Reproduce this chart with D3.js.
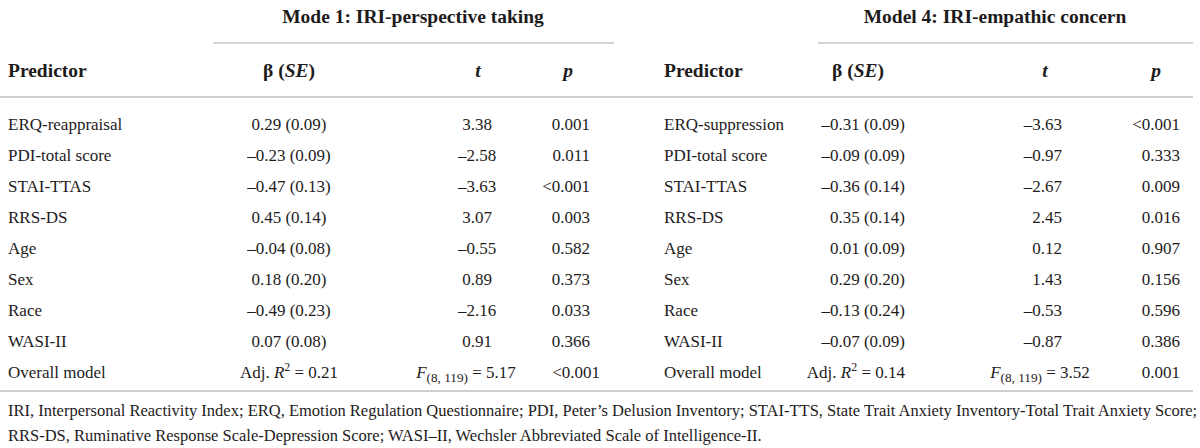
<!DOCTYPE html>
<html lang="en">
<head>
<meta charset="UTF-8">
<title>Regression models table</title>
<script src="https://cdnjs.cloudflare.com/ajax/libs/d3/7.8.5/d3.min.js"></script>
<style>
    body { margin: 0; padding: 0; background: #fff; }
    svg text { font-family: "Liberation Serif", "DejaVu Serif", serif; fill: #1e1b1c; }
</style>
</head>
<body>
<div id="table"></div>
<script>
// model titles
const modelTitles = ["Mode 1: IRI-perspective taking", "Model 4: IRI-empathic concern"];

// model 1 (perspective taking)
const predictors1 = ["ERQ-reappraisal", "PDI-total score", "STAI-TTAS", "RRS-DS", "Age", "Sex", "Race", "WASI-II"];
const beta1 = [0.29, -0.23, -0.47, 0.45, -0.04, 0.18, -0.49, 0.07];
const se1 = [0.09, 0.09, 0.13, 0.14, 0.08, 0.20, 0.23, 0.08];
const t1 = [3.38, -2.58, -3.63, 3.07, -0.55, 0.89, -2.16, 0.91];
const p1 = ["0.001", "0.011", "<0.001", "0.003", "0.582", "0.373", "0.033", "0.366"];

// model 4 (empathic concern)
const predictors4 = ["ERQ-suppression", "PDI-total score", "STAI-TTAS", "RRS-DS", "Age", "Sex", "Race", "WASI-II"];
const beta4 = [-0.31, -0.09, -0.36, 0.35, 0.01, 0.29, -0.13, -0.07];
const se4 = [0.09, 0.09, 0.14, 0.14, 0.09, 0.20, 0.24, 0.09];
const t4 = [-3.63, -0.97, -2.67, 2.45, 0.12, 1.43, -0.53, -0.87];
const p4 = ["<0.001", "0.333", "0.009", "0.016", "0.907", "0.156", "0.596", "0.386"];

// overall model rows
const overallR2 = [0.21, 0.14];
const overallF = [5.17, 3.52];
const overallDf = [8, 119];
const overallP = ["<0.001", "0.001"];

// footnote, one string per printed line
const footnoteLines = [
    "IRI, Interpersonal Reactivity Index; ERQ, Emotion Regulation Questionnaire; PDI, Peter\u2019s Delusion Inventory; STAI-TTS, State Trait Anxiety Inventory-Total Trait Anxiety Score;",
    "RRS-DS, Ruminative Response Scale-Depression Score; WASI\u2013II, Wechsler Abbreviated Scale of Intelligence-II."
];

const W = 1200, H = 448;
const fmt = v => (v < 0 ? "\u2013" : "") + Math.abs(v).toFixed(2);

const svg = d3.select("#table").append("svg")
    .attr("width", W)
    .attr("height", H);

// rows: 8 predictors + overall model
const y = d3.scalePoint()
    .domain(d3.range(9))
    .range([124, 372]);

const tables = [
    { title: modelTitles[0], pred: predictors1, beta: beta1, se: se1, t: t1, p: p1,
      r2: overallR2[0], F: overallF[0], pAll: overallP[0],
      xPred: 8, xBeta: 289, betaAnchor: "middle", xBetaHead: 289,
      xT: 477, tAnchor: "middle", xTHead: 478, xF: 466,
      xP: 590, xPHead: 568, xPAll: 600, xTitle: 413, rule: [213, 614] },
    { title: modelTitles[1], pred: predictors4, beta: beta4, se: se4, t: t4, p: p4,
      r2: overallR2[1], F: overallF[1], pAll: overallP[1],
      xPred: 664, xBeta: 905, betaAnchor: "end", xBetaHead: 858,
      xT: 1062, tAnchor: "end", xTHead: 1045, xF: 1040,
      xP: 1180, xPHead: 1156, xPAll: 1180, xTitle: 995, rule: [818, 1193] }
];

const bodySize = 17, headSize = 19.5;

tables.forEach(tb => {
    const g = svg.append("g");

    g.append("text")
        .attr("x", tb.xTitle).attr("y", 23)
        .attr("text-anchor", "middle")
        .attr("font-size", headSize).attr("font-weight", "bold")
        .text(tb.title);

    g.append("line")
        .attr("x1", tb.rule[0]).attr("x2", tb.rule[1])
        .attr("y1", 43).attr("y2", 43)
        .attr("stroke", "#a8a8a8").attr("stroke-width", 1.2);

    // header row
    const hy = 77;
    const head = g.append("g")
        .attr("font-size", headSize).attr("font-weight", "bold");
    head.append("text").attr("x", tb.xPred).attr("y", hy).text("Predictor");
    const hb = head.append("text").attr("x", tb.xBetaHead).attr("y", hy)
        .attr("text-anchor", "middle");
    hb.append("tspan").text("\u03b2 (");
    hb.append("tspan").attr("font-style", "italic").text("SE");
    hb.append("tspan").text(")");
    head.append("text").attr("x", tb.xTHead).attr("y", hy)
        .attr("text-anchor", "middle").attr("font-style", "italic").text("t");
    head.append("text").attr("x", tb.xPHead).attr("y", hy)
        .attr("text-anchor", "middle").attr("font-style", "italic").text("p");

    // predictor rows
    const rows = g.selectAll("g.row")
        .data(tb.pred.map((d, i) => ({ name: d, beta: tb.beta[i], se: tb.se[i], t: tb.t[i], p: tb.p[i], i })))
        .join("g")
        .attr("class", "row")
        .attr("transform", d => `translate(0,${y(d.i) + 6})`)
        .attr("font-size", bodySize);

    rows.append("text").attr("x", tb.xPred).text(d => d.name);
    rows.append("text").attr("x", tb.xBeta).attr("text-anchor", tb.betaAnchor)
        .text(d => `${fmt(d.beta)} (${d.se.toFixed(2)})`);
    rows.append("text").attr("x", tb.xT).attr("text-anchor", tb.tAnchor).text(d => fmt(d.t));
    rows.append("text").attr("x", tb.xP).attr("text-anchor", "end").text(d => d.p);

    // overall model row
    const og = g.append("g")
        .attr("transform", `translate(0,${y(8) + 6})`)
        .attr("font-size", bodySize);
    og.append("text").attr("x", tb.xPred).text("Overall model");
    const r2 = og.append("text").attr("x", tb.xBeta).attr("text-anchor", tb.betaAnchor);
    r2.append("tspan").text("Adj. ");
    r2.append("tspan").attr("font-style", "italic").text("R");
    r2.append("tspan").attr("font-size", bodySize * 0.7).attr("dy", -7).text("2");
    r2.append("tspan").attr("dy", 7).text(` = ${tb.r2.toFixed(2)}`);
    const ft = og.append("text").attr("x", tb.xF).attr("text-anchor", "middle");
    ft.append("tspan").attr("font-style", "italic").text("F");
    ft.append("tspan").attr("font-size", bodySize * 0.78).attr("dy", 4).text(`(${overallDf[0]}, ${overallDf[1]})`);
    ft.append("tspan").attr("dy", -4).text(` = ${tb.F.toFixed(2)}`);
    og.append("text").attr("x", tb.xPAll).attr("text-anchor", "end").text(tb.pAll);
});

// full-width rules
[97, 391].forEach(ry => {
    svg.append("line")
        .attr("x1", 0).attr("x2", 1193)
        .attr("y1", ry).attr("y2", ry)
        .attr("stroke", "#cfcfcf").attr("stroke-width", 2);
});

// footnote: first line justified to the table width
const footSize = 16.5, footLeft = 8, footRight = 1192;
footnoteLines.forEach((ln, i) => {
    const t = svg.append("text")
        .attr("x", footLeft).attr("y", 416 + i * 25)
        .attr("font-size", footSize)
        .text(ln);
    if (i < footnoteLines.length - 1) {
        const natural = t.node().getComputedTextLength();
        const gaps = ln.split(" ").length - 1;
        t.attr("word-spacing", Math.max(0, (footRight - footLeft - natural) / gaps));
    }
});
</script>
</body>
</html>
